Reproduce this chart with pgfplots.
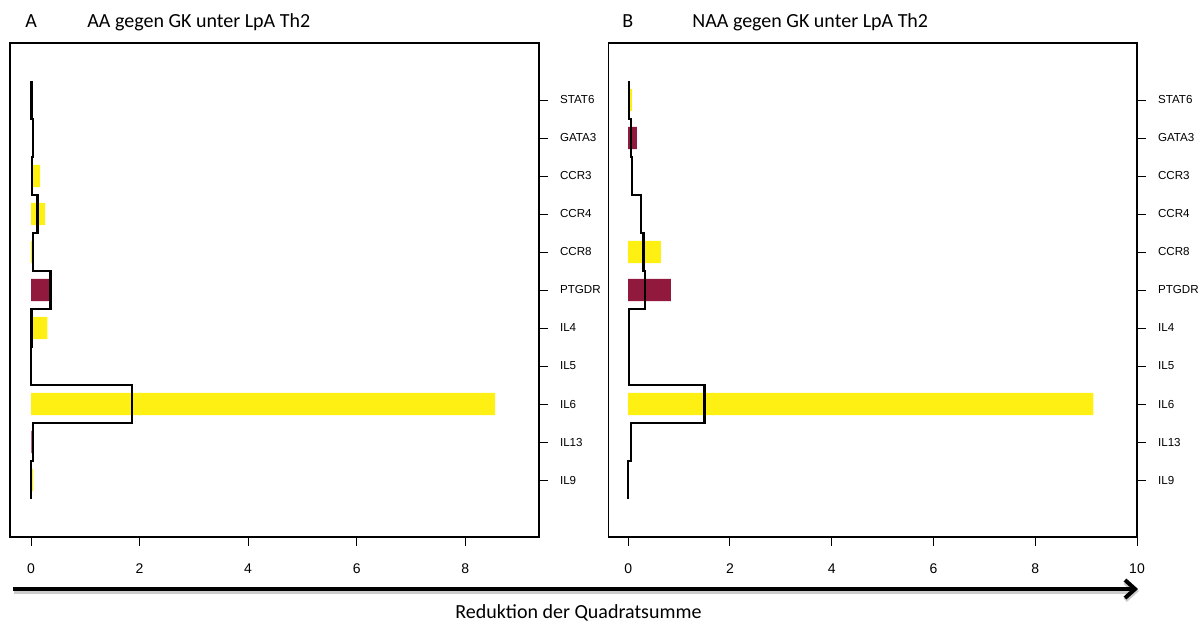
\documentclass[border=0pt]{standalone}
\usepackage{fontspec}
\setmainfont{Carlito}
\newfontfamily\arial{Liberation Sans}
\usepackage{pgfplots}
\pgfplotsset{compat=1.18}
\usetikzlibrary{arrows.meta}

\definecolor{barYellow}{RGB}{255,240,20}
\definecolor{barRed}{RGB}{145,25,62}

\pgfplotsset{
  panel/.style={
    scale only axis,
    height=247pt,
    anchor=south west,
    ymin=-1.5, ymax=11.5,
    xmin=-0.387,
    axis line style={line width=0.6pt},
    tick align=outside,
    major tick length=4.5pt,
    tick style={black, line width=0.5pt},
    xtick pos=bottom,
    ytick pos=right,
    yticklabel pos=right,
    ytick={0,...,10},
    yticklabels={IL9,IL13,IL6,IL5,IL4,PTGDR,CCR8,CCR4,CCR3,GATA3,STAT6},
    /pgf/number format/assume math mode=true,
    ticklabel style={font=\arial\fontsize{7}{8}\selectfont},
    yticklabel style={font=\arial\fontsize{5.8}{7}\selectfont},
    xticklabel shift=5.5pt,
    yticklabel shift=2.5pt,
    xbar, bar shift=0pt, bar width=0.58,
  },
  stepline/.style={black, line width=1.2pt, no marks, sharp plot, line join=miter},
}

\begin{document}
\begin{tikzpicture}
\path[use as bounding box] (0,0) rectangle (601.5pt,311.5pt);

% Panel A
\begin{axis}[panel, at={(5pt,43pt)}, width=264.5pt, xmax=9.36, xtick={0,2,4,6,8}]
  \addplot[fill=barYellow, draw=none] coordinates {
    (0.03,10) (0.17,8) (0.26,7) (0.03,6) (0.30,4) (8.55,2) (0.04,0)};
  \addplot[fill=barRed, draw=none] coordinates {
    (0.34,5) (0.01,1)};
  \addplot[stepline] coordinates {
    (0.01,10.5) (0.01,9.5) (0.04,9.5) (0.04,8.5) (0.02,8.5) (0.02,7.5)
    (0.12,7.5) (0.12,6.5) (0.04,6.5) (0.04,5.5) (0.36,5.5) (0.36,4.5)
    (0.01,4.5) (0.01,3.5) (0,3.5) (0,2.5) (1.86,2.5) (1.86,1.5)
    (0.04,1.5) (0.04,0.5) (0,0.5) (0,-0.5)};
\end{axis}

% Panel B
\begin{axis}[panel, at={(304.25pt,43pt)}, width=264.25pt, xmax=10.0, xtick={0,2,4,6,8,10}]
  \addplot[fill=barYellow, draw=none] coordinates {
    (0.07,10) (0.64,6) (9.14,2)};
  \addplot[fill=barRed, draw=none] coordinates {
    (0.17,9) (0.84,5)};
  \addplot[stepline] coordinates {
    (0.02,10.5) (0.02,9.5) (0.06,9.5) (0.06,8.5) (0.07,8.5) (0.07,7.5)
    (0.25,7.5) (0.25,6.5) (0.30,6.5) (0.30,5.5) (0.33,5.5) (0.33,4.5)
    (0.01,4.5) (0.01,3.5) (0.01,3.5) (0.01,2.5) (1.50,2.5) (1.50,1.5)
    (0.05,1.5) (0.05,0.5) (0,0.5) (0,-0.5)};
\end{axis}

% Panel headings
\node[anchor=base west, font=\fontsize{10}{12}\selectfont, inner sep=0] at (12.5pt,298pt) {A};
\node[anchor=base west, font=\fontsize{10}{12}\selectfont, inner sep=0] at (43.5pt,298pt) {AA gegen GK unter LpA Th2};
\node[anchor=base west, font=\fontsize{10}{12}\selectfont, inner sep=0] at (311pt,298pt) {B};
\node[anchor=base west, font=\fontsize{10}{12}\selectfont, inner sep=0] at (346pt,298pt) {NAA gegen GK unter LpA Th2};

% Common horizontal arrow and caption
\draw[black!20, line width=2.6pt, -{Straight Barb[length=5pt,width=9pt]}] (7.2pt,16pt) -- (569.5pt,16pt);
\draw[black, line width=2pt, -{Straight Barb[length=5pt,width=9pt]}] (6.5pt,17pt) -- (569pt,17pt);
\node[anchor=base west, font=\fontsize{10}{12}\selectfont, inner sep=0] at (227.5pt,2.5pt) {Reduktion der Quadratsumme};
\end{tikzpicture}
\end{document}
